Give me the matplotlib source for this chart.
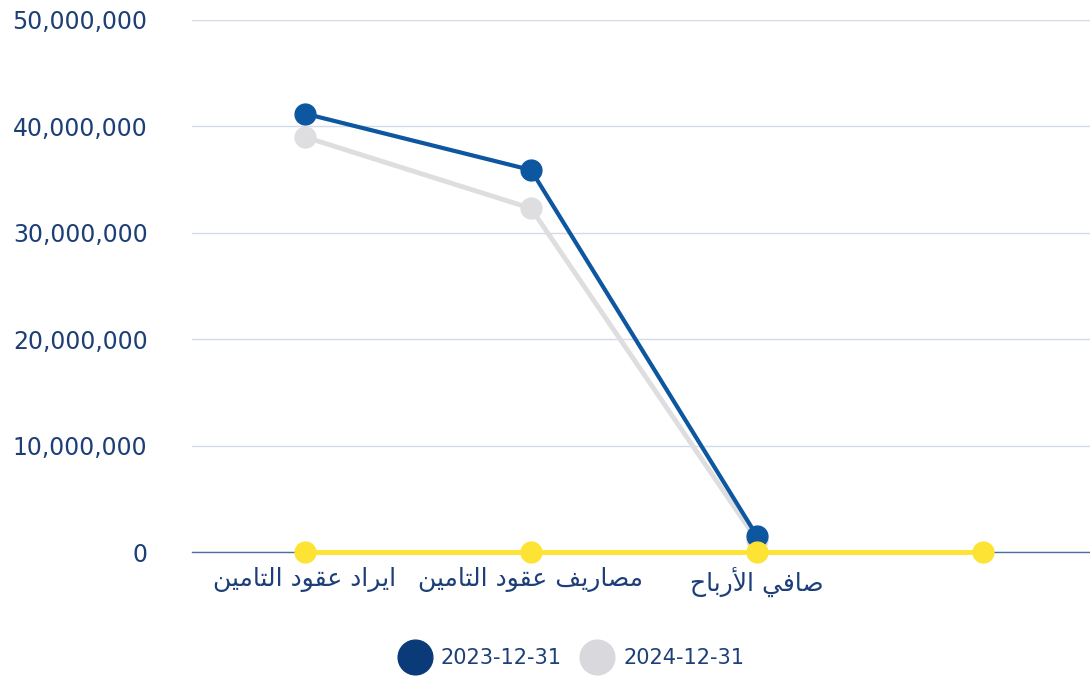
import matplotlib
matplotlib.use('Agg')
import matplotlib.pyplot as plt
from matplotlib.lines import Line2D
from matplotlib.ticker import FuncFormatter

# Data
categories = ['ايراد عقود التامين', 'مصاريف عقود التامين', 'صافي الأرباح', '']
series_names = ['2023-12-31', '2024-12-31']
values_2023 = [41200000, 35900000, 1500000]
values_2024 = [39000000, 32300000, 1100000]
values_zero = [0, 0, 0, 0]

# Arabic presentation forms: (isolated, final, initial, medial)
FORMS = {
    'ا': (0xFE8D, 0xFE8E, None, None),
    'أ': (0xFE83, 0xFE84, None, None),
    'ب': (0xFE8F, 0xFE90, 0xFE91, 0xFE92),
    'ت': (0xFE95, 0xFE96, 0xFE97, 0xFE98),
    'ح': (0xFEA1, 0xFEA2, 0xFEA3, 0xFEA4),
    'د': (0xFEA9, 0xFEAA, None, None),
    'ر': (0xFEAD, 0xFEAE, None, None),
    'ص': (0xFEB9, 0xFEBA, 0xFEBB, 0xFEBC),
    'ع': (0xFEC9, 0xFECA, 0xFECB, 0xFECC),
    'ف': (0xFED1, 0xFED2, 0xFED3, 0xFED4),
    'ق': (0xFED5, 0xFED6, 0xFED7, 0xFED8),
    'ل': (0xFEDD, 0xFEDE, 0xFEDF, 0xFEE0),
    'م': (0xFEE1, 0xFEE2, 0xFEE3, 0xFEE4),
    'ن': (0xFEE5, 0xFEE6, 0xFEE7, 0xFEE8),
    'و': (0xFEED, 0xFEEE, None, None),
    'ي': (0xFEF1, 0xFEF2, 0xFEF3, 0xFEF4),
}
LAM_ALEF = {'أ': (0xFEF7, 0xFEF8), 'ا': (0xFEFB, 0xFEFC)}


def shape(text):
    """ Minimal Arabic shaping, returned in visual (left to right) order. """
    out = []
    i = 0
    n = len(text)
    while i < n:
        c = text[i]
        if c not in FORMS:
            out.append(c)
            i += 1
            continue
        prev = text[i-1] if i > 0 else ''
        joins_prev = prev in FORMS and FORMS[prev][2] is not None
        if c == 'ل' and i + 1 < n and text[i+1] in LAM_ALEF:
            lig = LAM_ALEF[text[i+1]]
            out.append(chr(lig[1] if joins_prev else lig[0]))
            i += 2
            continue
        nxt = text[i+1] if i + 1 < n else ''
        joins_next = FORMS[c][2] is not None and nxt in FORMS
        iso, fin, ini, med = FORMS[c]
        if joins_prev and joins_next:
            code = med
        elif joins_prev:
            code = fin
        elif joins_next:
            code = ini
        else:
            code = iso
        out.append(chr(code))
        i += 1
    return ''.join(out)[::-1]


text_color = '#1d3f78'
blue = '#0d56a0'
grey = '#dedde0'
yellow = '#fde334'

plt.rcParams['font.family'] = ['DejaVu Sans']

fig = plt.figure(figsize=(10.9, 6.76), dpi=100)
ax = fig.add_axes([192/1090, 124/676, 904/1090, 532/676])

x = list(range(len(categories)))
ax.plot(x[:len(values_2024)], values_2024, color=grey, lw=3.5, marker='o',
        ms=15, mfc=grey, mec=grey, zorder=3, clip_on=False)
ax.plot(x[:len(values_2023)], values_2023, color=blue, lw=3, marker='o',
        ms=15, mfc=blue, mec=blue, zorder=4, clip_on=False)
ax.plot(x, values_zero, color=yellow, lw=3.5, marker='o', ms=15,
        mfc=yellow, mec=yellow, zorder=5, clip_on=False)

ax.set_xlim(-0.5, 3.5)
ax.set_ylim(0, 50000000)
ax.set_yticks(range(0, 50000001, 10000000))
ax.yaxis.set_major_formatter(FuncFormatter(lambda v, p: '{:,.0f}'.format(v)))
ax.set_xticks(x)
ax.set_xticklabels([shape(c) for c in categories], fontsize=18, color=text_color)
ax.tick_params(axis='y', length=0, pad=32, labelsize=17, labelcolor=text_color)
ax.tick_params(axis='x', length=0, pad=11)

ax.grid(axis='y', color='#d3dbe8', lw=1)
ax.set_axisbelow(True)
for side in ['top', 'right', 'left']:
    ax.spines[side].set_visible(False)
ax.spines['bottom'].set_color('#4a6fa5')
ax.spines['bottom'].set_linewidth(1)

handles = [Line2D([], [], ls='', marker='o', ms=25, mfc='#0b3a78', mec='#0b3a78'),
           Line2D([], [], ls='', marker='o', ms=25, mfc='#d9d8dc', mec='#d9d8dc')]
fig.legend(handles, series_names, loc='center', bbox_to_anchor=(570/1090, 1 - 658/676),
           ncol=2, frameon=False, fontsize=15, labelcolor=text_color,
           handletextpad=0.35, columnspacing=0.8, handlelength=1.8)

fig.savefig('out.png', dpi=100)
